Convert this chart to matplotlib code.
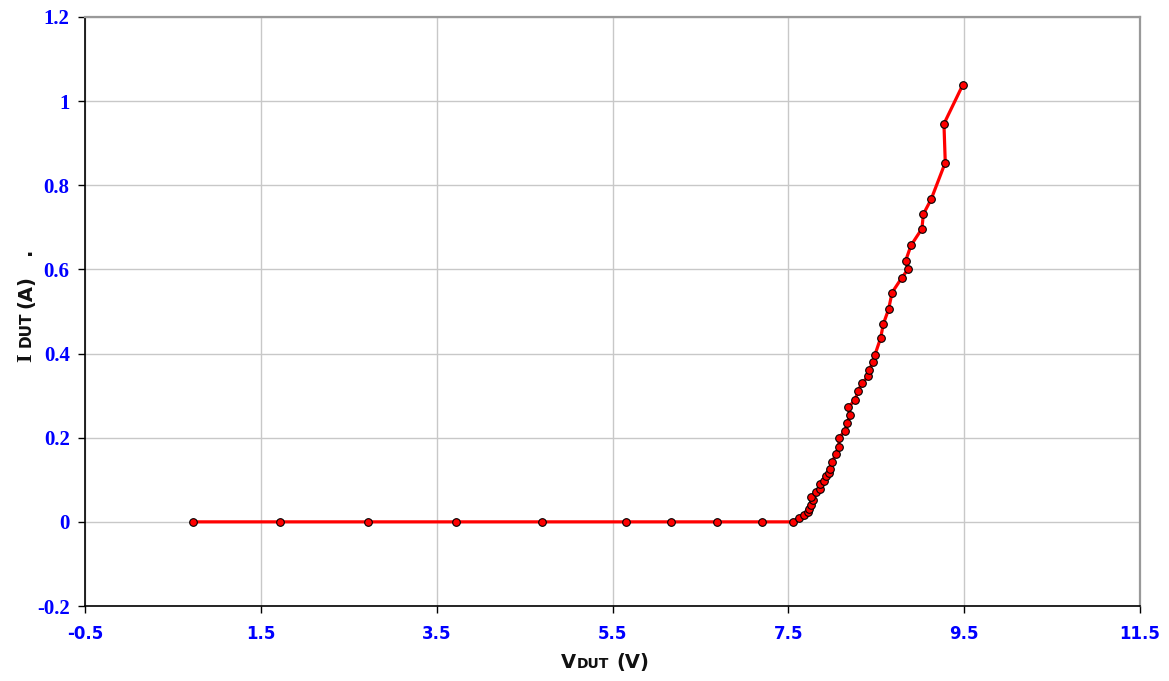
import matplotlib.pyplot as plt
from matplotlib.ticker import FuncFormatter

# V_DUT (V) and I_DUT (A)
v = [0.73, 1.72, 2.72, 3.72, 4.70, 5.65, 6.165, 6.69, 7.20, 7.55,
     7.62, 7.68, 7.72, 7.74, 7.755, 7.78, 7.76, 7.82, 7.86, 7.86,
     7.905, 7.925, 7.96, 7.97, 8.00, 8.04, 8.075, 8.075, 8.145, 8.17,
     8.20, 8.18, 8.26, 8.29, 8.335, 8.41, 8.415, 8.465, 8.485, 8.55,
     8.58, 8.64, 8.68, 8.79, 8.86, 8.835, 8.895, 9.02, 9.035, 9.125,
     9.285, 9.27, 9.485]
i = [0, 0, 0, 0, 0, 0, 0, 0, 0, 0,
     0.010, 0.017, 0.023, 0.031, 0.041, 0.052, 0.060, 0.070, 0.079, 0.089,
     0.098, 0.108, 0.117, 0.125, 0.142, 0.162, 0.179, 0.200, 0.216, 0.235,
     0.254, 0.273, 0.289, 0.310, 0.329, 0.346, 0.360, 0.380, 0.397, 0.437,
     0.470, 0.505, 0.545, 0.580, 0.600, 0.621, 0.657, 0.697, 0.731, 0.767,
     0.854, 0.946, 1.039]

xticks = [-0.5, 1.5, 3.5, 5.5, 7.5, 9.5, 11.5]
yticks = [-0.2, 0, 0.2, 0.4, 0.6, 0.8, 1, 1.2]

W, H = 1169, 681
fig = plt.figure(figsize=(W / 100, H / 100), dpi=100)
ax = fig.add_axes([85 / W, 1 - 606 / H, (1140 - 85) / W, (606 - 17) / H])

ax.plot(v, i, color='red', lw=2.3, marker='o', ms=5.5, mfc='red', mec='black', mew=0.8, zorder=3)

ax.set_xlim(-0.5, 11.5)
ax.set_ylim(-0.2, 1.2)
ax.set_xticks(xticks)
ax.set_yticks(yticks)
ax.xaxis.set_major_formatter(FuncFormatter(lambda x, p: f"{x:g}"))
ax.yaxis.set_major_formatter(FuncFormatter(lambda x, p: f"{round(x, 1):g}"))
ax.grid(True, color='#c8c8c8', lw=1)
ax.set_axisbelow(True)
ax.tick_params(direction='out', length=5, width=1, color='black')
for lab in ax.get_xticklabels():
    lab.set_fontfamily('DejaVu Sans')
    lab.set_fontweight('bold')
    lab.set_fontsize(12)
    lab.set_color('blue')
for lab in ax.get_yticklabels():
    lab.set_fontfamily('Liberation Serif')
    lab.set_fontweight('bold')
    lab.set_fontsize(15)
    lab.set_color('blue')
ax.tick_params(axis='x', pad=9)
ax.tick_params(axis='y', pad=6)

for s in ['left', 'bottom']:
    ax.spines[s].set_color('black')
    ax.spines[s].set_linewidth(1.2)
for s in ['top', 'right']:
    ax.spines[s].set_color('#999999')
    ax.spines[s].set_linewidth(1.6)

# axis titles with small-caps subscripts
font = dict(family='DejaVu Sans', weight='bold', color='#111111')
fig.text(561 / W, 1 - 668 / H, 'V', fontsize=14, ha='left', va='baseline', **font)
fig.text(577 / W, 1 - 668 / H, 'DUT', fontsize=10, ha='left', va='baseline', **font)
fig.text(616 / W, 1 - 668 / H, '(V)', fontsize=14, ha='left', va='baseline', **font)

fig.text(31 / W, 1 - 362 / H, 'I', fontsize=16, rotation=90, rotation_mode='anchor', ha='left', va='baseline', family='Liberation Serif', weight='bold', color='#111111')
fig.text(31 / W, 1 - 347 / H, 'DUT', fontsize=11, rotation=90, rotation_mode='anchor', ha='left', va='baseline', **font)
fig.text(31 / W, 1 - 308 / H, '(A)', fontsize=14, rotation=90, rotation_mode='anchor', ha='left', va='baseline', **font)
fig.text(31 / W, 1 - 255 / H, '.', fontsize=14, rotation=90, rotation_mode='anchor', ha='left', va='baseline', **font)

fig.savefig('out.png', dpi=100)
